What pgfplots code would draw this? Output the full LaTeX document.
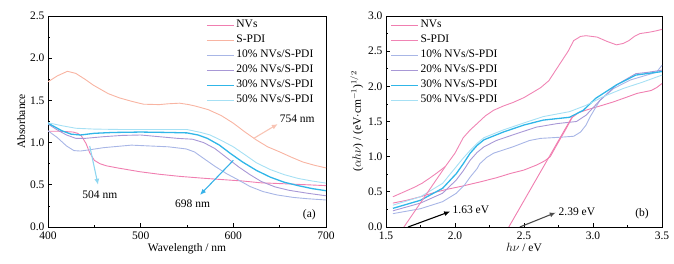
\documentclass[border=0pt]{standalone}
\usepackage{pgfplots}
\pgfplotsset{compat=1.18}
\usetikzlibrary{arrows.meta}
\usepackage{fontspec}
\setmainfont{Liberation Serif}
\definecolor{cNV}{HTML}{F07EB0}
\definecolor{cSP}{HTML}{F8B4A2}
\definecolor{cSPb}{HTML}{F084B4}
\definecolor{cA}{HTML}{A8B6E6}
\definecolor{cB}{HTML}{A898D6}
\definecolor{cC}{HTML}{30B6E8}
\definecolor{cD}{HTML}{A6E0F4}
\definecolor{arrA}{HTML}{F8C4B4}
\definecolor{arrB}{HTML}{8ED6F0}
\definecolor{arrC}{HTML}{38B2E8}
\pgfplotsset{
  every axis/.append style={
    font=\fontsize{11.5}{13}\selectfont,
    scale only axis,
    axis line style={line width=0.9pt},
    tick align=inside,
    tick pos=left,
    major tick length=3.5pt,
    minor tick length=2pt,
    every tick/.style={black, line width=0.7pt},
    /pgf/number format/assume math mode=true,
    /pgf/number format/fixed,
    /pgf/number format/fixed zerofill,
    /pgf/number format/precision=1,
    xticklabel style={yshift=-1pt},
    legend cell align=left,
    legend style={draw=none, fill=none, row sep=4.5pt, inner sep=0pt,
      font=\fontsize{11.5}{13}\selectfont,
      nodes={inner sep=0pt, inner xsep=2pt, text height=8pt, text depth=2.5pt}},
    legend image code/.code={\draw[mark repeat=2,mark phase=2,#1] plot coordinates {(0pt,0pt) (13.5pt,0pt) (27pt,0pt)};},
  },
}
\begin{document}
\begin{tikzpicture}
\path[use as bounding box] (0pt,0pt) rectangle (674pt,264pt);
% ---------------- (a) ----------------
\begin{axis}[
  at={(48pt,37pt)}, anchor=south west,
  width=278pt, height=211pt,
  xmin=400, xmax=700, ymin=0, ymax=2.5,
  xtick={400,500,600,700}, minor xtick={450,550,650},
  ytick={0,0.5,1.0,1.5,2.0,2.5}, minor ytick={0.25,0.75,1.25,1.75,2.25},
  xticklabels={400,500,600,700},
  xlabel={Wavelength / nm}, ylabel={Absorbance},
  xlabel style={yshift=3pt}, ylabel style={yshift=-2pt},
  legend style={at={(0.568,0.982)}, anchor=north west},
  clip=true,
]
\addplot[cNV, line width=0.9pt] coordinates {(400,1.135) (410,1.135) (420,1.13) (427,1.125) (432,1.11) (436,1.08) (441,0.99) (445,0.88) (450,0.79) (456,0.75) (463,0.725) (475,0.70) (499,0.655) (520,0.625) (542,0.60) (565,0.58) (585,0.564) (610,0.545) (629,0.524) (660,0.51) (700,0.49)};
\addlegendentry{NVs}
\addplot[cSP, line width=0.9pt] coordinates {(400,1.72) (410,1.79) (421,1.845) (430,1.82) (440,1.75) (449,1.68) (465,1.58) (477,1.53) (490,1.49) (503,1.455) (520,1.45) (530,1.46) (542,1.467) (552,1.45) (560,1.43) (573,1.39) (587,1.32) (600,1.23) (612,1.13) (625,1.03) (637,0.95) (650,0.89) (662,0.83) (675,0.77) (688,0.73) (700,0.70)};
\addlegendentry{S-PDI}
\addplot[cA, line width=0.9pt] coordinates {(400,1.14) (410,1.06) (420,0.96) (428,0.905) (435,0.90) (445,0.915) (460,0.94) (475,0.955) (490,0.97) (510,0.96) (530,0.95) (549,0.925) (558,0.89) (567,0.82) (580,0.72) (593,0.63) (605,0.56) (618,0.48) (632,0.42) (647,0.38) (665,0.35) (680,0.335) (700,0.32)};
\addlegendentry{10\% NVs/S-PDI}
\addplot[cB, line width=0.9pt] coordinates {(400,1.22) (410,1.15) (420,1.09) (430,1.05) (440,1.05) (460,1.07) (480,1.085) (500,1.09) (520,1.07) (540,1.05) (556,1.04) (568,1.00) (580,0.93) (593,0.82) (606,0.71) (618,0.62) (630,0.54) (645,0.475) (660,0.435) (680,0.40) (700,0.37)};
\addlegendentry{20\% NVs/S-PDI}
\addplot[cC, line width=1.3pt] coordinates {(400,1.23) (415,1.14) (425,1.10) (435,1.09) (450,1.11) (470,1.12) (500,1.125) (530,1.12) (550,1.115) (562,1.09) (572,1.05) (585,0.97) (597,0.87) (610,0.77) (625,0.67) (640,0.59) (655,0.53) (670,0.49) (685,0.455) (700,0.43)};
\addlegendentry{30\% NVs/S-PDI}
\addplot[cD, line width=0.9pt] coordinates {(400,1.235) (415,1.20) (430,1.17) (450,1.16) (480,1.155) (520,1.155) (550,1.155) (565,1.12) (575,1.09) (588,1.02) (600,0.95) (612,0.86) (625,0.76) (640,0.68) (655,0.62) (670,0.575) (685,0.545) (700,0.52)};
\addlegendentry{50\% NVs/S-PDI}
\draw[arrA, line width=1.1pt, -{Latex[length=6pt,width=5pt]}] (axis cs:622,1.05) -- (axis cs:648,1.22);
\node[anchor=west, inner sep=0pt] at (axis cs:650,1.28) {754 nm};
\draw[arrB, line width=1.1pt, -{Latex[length=6pt,width=5pt]}] (axis cs:445,0.96) -- (axis cs:454,0.50);
\node[inner sep=0pt] at (axis cs:456,0.385) {504 nm};
\draw[arrC, line width=1.1pt, -{Latex[length=6pt,width=5pt]}] (axis cs:600,0.79) -- (axis cs:564,0.38);
\node[inner sep=0pt] at (axis cs:556,0.28) {698 nm};
\node[inner sep=0pt] at (axis cs:682,0.15) {(a)};
\end{axis}
% ---------------- (b) ----------------
\begin{axis}[
  at={(386pt,37pt)}, anchor=south west,
  width=276pt, height=211pt,
  xmin=1.5, xmax=3.5, ymin=0, ymax=3,
  xtick={1.5,2.0,2.5,3.0,3.5}, minor xtick={1.75,2.25,2.75,3.25},
  ytick={0,0.5,1.0,1.5,2.0,2.5,3.0}, minor ytick={0.25,0.75,1.25,1.75,2.25,2.75},
  xlabel={$h\nu$ / eV},
  ylabel={($\alpha h\nu$) / (eV$\cdot$cm$^{-1}$)$^{1/2}$},
  xlabel style={yshift=3pt}, ylabel style={yshift=-2pt},
  legend style={at={(0.0145,0.982)}, anchor=north west},
  clip=true,
]
\addplot[cNV, line width=0.9pt] coordinates {(1.55,0.34) (1.65,0.38) (1.75,0.43) (1.85,0.49) (1.94,0.535) (2.05,0.58) (2.18,0.64) (2.30,0.70) (2.40,0.76) (2.50,0.81) (2.59,0.88) (2.65,0.94) (2.69,1.0) (2.75,1.21) (2.80,1.38) (2.85,1.56) (2.90,1.63) (2.98,1.68) (3.05,1.72) (3.15,1.78) (3.25,1.85) (3.32,1.90) (3.42,1.94) (3.46,1.98) (3.50,2.04)};
\addlegendentry{NVs}
\addplot[cSPb, line width=0.9pt] coordinates {(1.55,0.43) (1.62,0.49) (1.70,0.56) (1.76,0.62) (1.82,0.70) (1.87,0.77) (1.93,0.86) (2.00,1.05) (2.06,1.27) (2.11,1.38) (2.16,1.47) (2.22,1.58) (2.28,1.66) (2.35,1.72) (2.42,1.77) (2.50,1.84) (2.56,1.91) (2.62,1.98) (2.68,2.08) (2.76,2.32) (2.82,2.50) (2.86,2.65) (2.91,2.71) (2.95,2.72) (3.03,2.70) (3.10,2.64) (3.17,2.59) (3.22,2.61) (3.26,2.65) (3.30,2.71) (3.34,2.75) (3.41,2.77) (3.46,2.79) (3.50,2.81)};
\addlegendentry{S-PDI}
\addplot[cA, line width=0.9pt] coordinates {(1.55,0.19) (1.75,0.26) (1.91,0.36) (2.01,0.48) (2.07,0.60) (2.11,0.71) (2.16,0.83) (2.18,0.90) (2.23,0.99) (2.28,1.05) (2.42,1.14) (2.54,1.23) (2.62,1.26) (2.71,1.27) (2.79,1.28) (2.86,1.29) (2.91,1.35) (2.95,1.45) (2.98,1.57) (3.05,1.80) (3.15,1.97) (3.27,2.09) (3.39,2.16) (3.46,2.20) (3.50,2.30)};
\addlegendentry{10\% NVs/S-PDI}
\addplot[cB, line width=0.9pt] coordinates {(1.55,0.23) (1.75,0.34) (1.91,0.48) (2.01,0.67) (2.06,0.80) (2.11,0.95) (2.16,1.06) (2.21,1.14) (2.30,1.23) (2.45,1.33) (2.59,1.42) (2.74,1.47) (2.88,1.50) (2.95,1.59) (3.05,1.80) (3.17,2.02) (3.31,2.18) (3.40,2.20) (3.50,2.23)};
\addlegendentry{20\% NVs/S-PDI}
\addplot[cC, line width=1.3pt] coordinates {(1.55,0.265) (1.75,0.38) (1.91,0.55) (2.01,0.76) (2.06,0.90) (2.11,1.05) (2.16,1.16) (2.21,1.24) (2.35,1.35) (2.50,1.45) (2.64,1.52) (2.83,1.56) (2.93,1.66) (3.02,1.83) (3.17,2.02) (3.31,2.16) (3.50,2.21)};
\addlegendentry{30\% NVs/S-PDI}
\addplot[cD, line width=0.9pt] coordinates {(1.55,0.31) (1.75,0.43) (1.91,0.62) (2.01,0.86) (2.06,0.98) (2.11,1.09) (2.16,1.19) (2.21,1.27) (2.35,1.38) (2.50,1.48) (2.64,1.57) (2.83,1.64) (2.95,1.73) (3.07,1.85) (3.22,1.97) (3.36,2.06) (3.50,2.16)};
\addlegendentry{50\% NVs/S-PDI}
\addplot[cSPb, line width=0.9pt, forget plot] coordinates {(1.63,0) (1.93,0.86)};
\addplot[cNV, line width=0.9pt, forget plot] coordinates {(2.39,0) (2.85,1.57)};
\draw[black, line width=1.1pt, -{Latex[length=6pt,width=5pt]}] (axis cs:1.66,0.0) -- (axis cs:1.965,0.22);
\node[anchor=west, inner sep=0pt] at (axis cs:1.982,0.24) {1.63 eV};
\draw[black!70, line width=1.1pt, -{Latex[length=6pt,width=5pt]}] (axis cs:2.47,0.0) -- (axis cs:2.73,0.205);
\node[anchor=west, inner sep=0pt] at (axis cs:2.75,0.21) {2.39 eV};
\node[inner sep=0pt] at (axis cs:3.355,0.195) {(b)};
\end{axis}
\end{tikzpicture}
\end{document}
